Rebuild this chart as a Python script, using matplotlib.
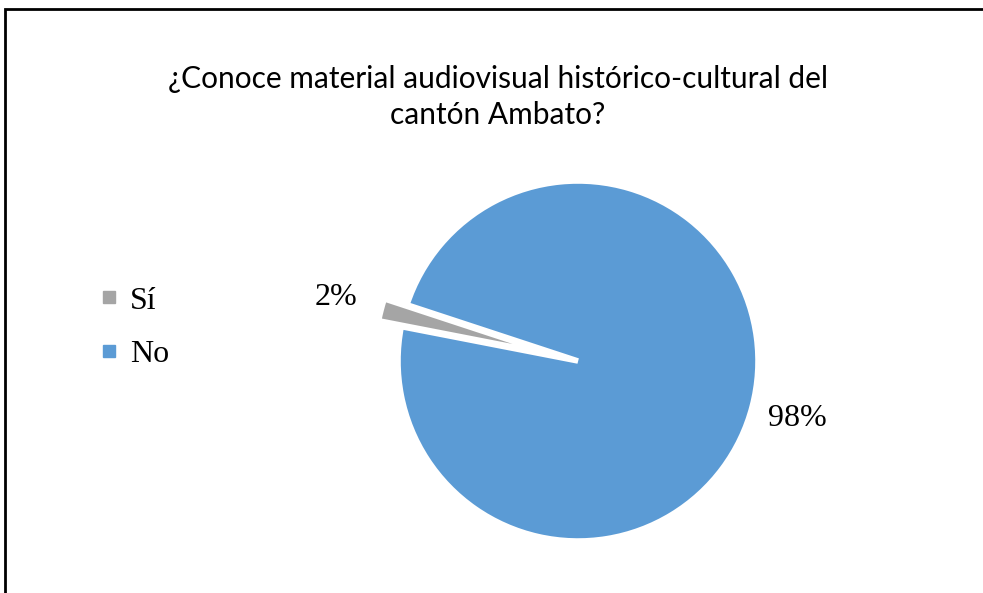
"""
Pie chart: ¿Conoce material audiovisual histórico-cultural del cantón Ambato?
"""

import matplotlib
matplotlib.use('Agg')
import matplotlib.pyplot as plt
from matplotlib.patches import Rectangle
from matplotlib.lines import Line2D

### data ###
categories = ['Sí', 'No']
values = [2, 98]
colors = ['#A5A5A5', '#5B9BD5']
title = '¿Conoce material audiovisual histórico-cultural del\ncantón Ambato?'

W, H = 983, 593
fig = plt.figure(figsize=(W/100, H/100), dpi=100)
fig.patch.set_facecolor('white')

# pie axes: centre (578, 361) px, radius ~180 px
r_px = 180.
cx, cy = 578., H - 361.
half = 240.
ax = fig.add_axes([(cx - half)/W, (cy - half)/H, 2*half/W, 2*half/H])
ax.set_aspect('equal')
ax.axis('off')

wedges, texts, autotexts = ax.pie(
    values, colors=colors, startangle=161.8, counterclock=True,
    explode=[0.13, 0], radius=1, autopct='%1.0f%%', pctdistance=1.26,
    wedgeprops=dict(edgecolor='white', linewidth=4),
    textprops=dict(family='Liberation Serif', fontsize=23, color='black'))
ax.set_xlim(-half/r_px, half/r_px)
ax.set_ylim(-half/r_px, half/r_px)

# title
fig.text(498/W, 1 - 97/H, title, ha='center', va='center',
         family='Lato', fontsize=21.5, linespacing=1.32, color='#000000')

# legend
handles = [Line2D([], [], marker='s', linestyle='none', markersize=8,
                  markerfacecolor=c, markeredgecolor=c) for c in colors]
fig.legend(handles, categories, loc='center left',
           bbox_to_anchor=(100/W, 1 - 327.5/H), frameon=False,
           prop=dict(family='Liberation Serif', size=23),
           handlelength=0.55, handletextpad=0.4, labelspacing=0.75,
           borderaxespad=0, borderpad=0)

# frame (only left and top are visible)
fig.add_artist(Rectangle((5/W, -0.2), 1.5, 1.2 - 9/H, transform=fig.transFigure,
                         fill=False, edgecolor='black', linewidth=2))

fig.savefig('out.png', dpi=100)
